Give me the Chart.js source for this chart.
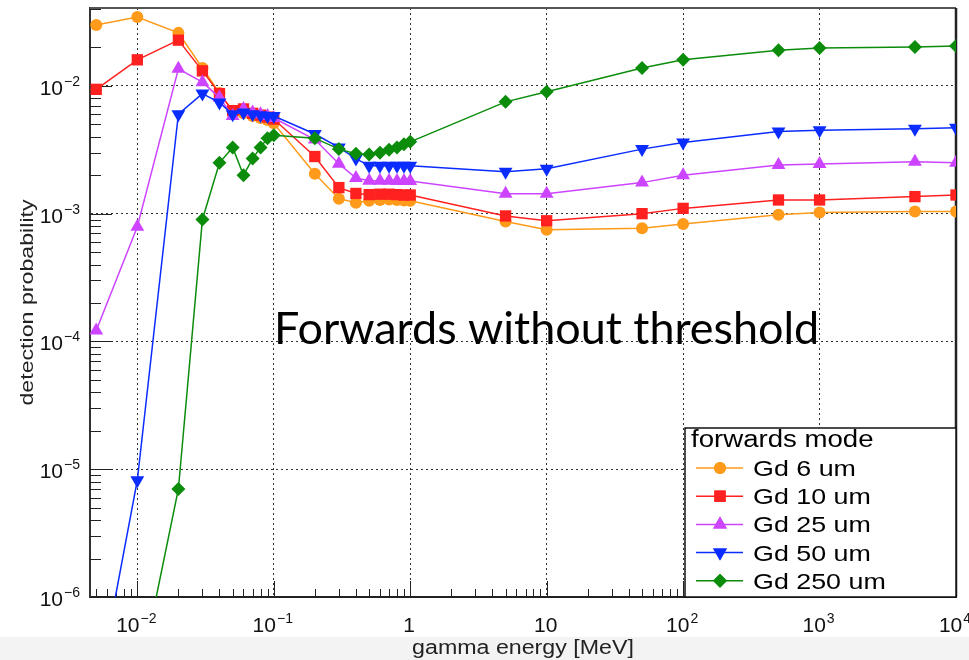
<!DOCTYPE html>
<html>
<head>
<meta charset="utf-8">
<script src="https://cdn.jsdelivr.net/npm/chart.js@4.4.1/dist/chart.umd.min.js"></script>
<style>
	html, body {margin: 0; padding: 0; background: #fff;}
	canvas {display: block;}
</style>
</head>
<body>
<canvas id="chart" width="969" height="660"></canvas>
<script>
// gamma energy [MeV]
const energies = [0.005, 0.01, 0.02, 0.03, 0.04, 0.05, 0.06, 0.07, 0.08, 0.09, 0.1, 0.2, 0.3, 0.4, 0.5, 0.6, 0.7, 0.8, 0.9, 1, 5, 10, 50, 100, 500, 1000, 5000, 10000];

// detection probability, one list per Gd thickness
const gd6 = [0.030, 0.0346, 0.026, 0.0138, 0.0088, 0.0064, 0.0061, 0.0058, 0.0056, 0.0054, 0.0051, 0.00205, 0.00131, 0.00122, 0.00126, 0.00128, 0.00129, 0.00128, 0.00127, 0.00126, 0.00087, 0.00075, 0.00077, 0.00083, 0.00098, 0.00102, 0.00104, 0.00104];
const gd10 = [0.0094, 0.016, 0.0228, 0.0131, 0.0087, 0.0064, 0.0066, 0.0061, 0.0059, 0.0057, 0.0055, 0.0028, 0.0016, 0.00144, 0.00141, 0.00142, 0.00142, 0.00141, 0.0014, 0.0014, 0.00096, 0.00088, 0.001, 0.0011, 0.00128, 0.00128, 0.00136, 0.0014];
const gd25 = [0.000122, 0.00079, 0.0136, 0.0107, 0.0081, 0.0058, 0.0066, 0.0062, 0.006, 0.0058, 0.0056, 0.0038, 0.00246, 0.0019, 0.00181, 0.00181, 0.00181, 0.0018, 0.0018, 0.0018, 0.00143, 0.00143, 0.00175, 0.002, 0.0024, 0.00245, 0.00255, 0.0025];
const gd50 = [1.6e-7, 8.2e-6, 0.006, 0.0087, 0.0074, 0.006, 0.0062, 0.006, 0.0059, 0.0058, 0.0058, 0.0042, 0.0033, 0.0027, 0.00237, 0.00237, 0.00237, 0.00237, 0.00237, 0.00237, 0.00213, 0.00225, 0.0032, 0.0036, 0.0044, 0.0045, 0.00462, 0.0047];
const gd250 = [null, 1.9e-7, 7e-6, 0.0009, 0.0025, 0.0033, 0.002, 0.0027, 0.0033, 0.0039, 0.0041, 0.0039, 0.0032, 0.00294, 0.0029, 0.003, 0.00316, 0.0033, 0.0035, 0.00365, 0.0075, 0.009, 0.0138, 0.016, 0.019, 0.0198, 0.0202, 0.0205];

const seriesLabels = ["Gd 6 um", "Gd 10 um", "Gd 25 um", "Gd 50 um", "Gd 250 um"];
const seriesValues = [gd6, gd10, gd25, gd50, gd250];

// tick labels: mantissa + exponent (drawn as superscript)
const xTickValues = [0.01, 0.1, 1, 10, 100, 1000, 10000];
const xTickBase = ["10", "10", "1", "10", "10", "10", "10"];
const xTickExp = ["−2", "−1", "", "", "2", "3", "4"];
const yTickValues = [1e-6, 1e-5, 1e-4, 1e-3, 1e-2];
const yTickBase = ["10", "10", "10", "10", "10"];
const yTickExp = ["−6", "−5", "−4", "−3", "−2"];

const xTitle = "gamma energy [MeV]";
const yTitle = "detection probability";
const legendTitle = "forwards mode";
const overlayText = "Forwards without threshold";

const FONT = "'Liberation Sans', Arial, sans-serif";

// marker look, ROOT style
const styles = [
	{color: "#ff9a1a", shape: "circle", radius: 6, rotation: 0},
	{color: "#ff2020", shape: "rect", radius: 8, rotation: 0},
	{color: "#cc44ff", shape: "triangle", radius: 8, rotation: 0},
	{color: "#0a2cff", shape: "triangle", radius: 8, rotation: 180},
	{color: "#0b8c0b", shape: "rectRot", radius: 7, rotation: 0},
];

function isDecade(v) {
	const l = Math.log10(v);
	return Math.abs(l - Math.round(l)) < 1e-6;
}

const datasets = seriesValues.map(function (vals, i) {
	const st = styles[i];
	return {
		"label": seriesLabels[i],
		"data": energies.map((e, j) => ({"x": e, "y": vals[j]})),
		"borderColor": st.color,
		"backgroundColor": st.color,
		"borderWidth": 1.5,
		"pointStyle": st.shape,
		"pointRadius": st.radius,
		"pointRotation": st.rotation,
		"pointBorderWidth": 0,
		"tension": 0,
		"spanGaps": false,
		"order": seriesValues.length - i,
	};
});

// text helper, ROOT text here is a bit wider than Liberation Sans
function stretchedText(ctx, text, x, y, size, stretch, align, baseline) {
	ctx.save();
	ctx.translate(x, y);
	ctx.scale(stretch, 1);
	ctx.font = size + "px " + FONT;
	ctx.textAlign = align;
	ctx.textBaseline = baseline;
	ctx.fillText(text, 0, 0);
	ctx.restore();
}

// "10" with a raised exponent; align is where x sits: "center" or "right"
function powerLabel(ctx, base, exp, x, baseY, align) {
	ctx.save();
	ctx.textBaseline = "alphabetic";
	ctx.textAlign = "left";
	ctx.font = "21px " + FONT;
	const wb = ctx.measureText(base).width;
	ctx.font = "14px " + FONT;
	const we = exp ? ctx.measureText(exp).width + 1 : 0;
	const total = wb + we;
	const x0 = align == "right" ? x - total : x - total / 2;
	ctx.font = "21px " + FONT;
	ctx.fillText(base, x0, baseY);
	if (exp) {
		ctx.font = "14px " + FONT;
		ctx.fillText(exp, x0 + wb + 1, baseY - 9);
	}
	ctx.restore();
}

const decorations = {
	"id": "decorations",
	beforeDraw(chart) {
		const ctx = chart.ctx;
		ctx.save();
		ctx.fillStyle = "#ffffff";
		ctx.fillRect(0, 0, chart.width, chart.height);
		ctx.fillStyle = "#f3f3f3";
		ctx.fillRect(0, 637, chart.width, chart.height - 637);
		ctx.restore();
	},
	beforeDatasetsDraw(chart) {
		const ctx = chart.ctx;
		const a = chart.chartArea;
		const xs = chart.scales.x;
		const ys = chart.scales.y;
		ctx.save();
		ctx.strokeStyle = "#222";
		ctx.lineWidth = 1;
		ctx.beginPath();
		// inward ticks on the x axis
		for (let d = -3; d <= 4; d++) {
			for (let k = 1; k <= 9; k++) {
				const v = k * Math.pow(10, d);
				if (v < xs.min || v > xs.max) continue;
				const px = Math.round(xs.getPixelForValue(v)) + 0.5;
				const len = k == 1 ? 16 : 8;
				ctx.moveTo(px, a.bottom);
				ctx.lineTo(px, a.bottom - len);
			}
		}
		// inward ticks on the y axis
		for (let d = -7; d <= -1; d++) {
			for (let k = 1; k <= 9; k++) {
				const v = k * Math.pow(10, d);
				if (v < ys.min || v > ys.max) continue;
				const py = Math.round(ys.getPixelForValue(v)) + 0.5;
				const len = k == 1 ? 22 : 11;
				ctx.moveTo(a.left, py);
				ctx.lineTo(a.left + len, py);
			}
		}
		ctx.stroke();
		// top and right frame
		ctx.strokeStyle = "#555";
		ctx.lineWidth = 2;
		ctx.beginPath();
		ctx.moveTo(a.left, a.top);
		ctx.lineTo(a.right, a.top);
		ctx.stroke();
		ctx.strokeStyle = "#222";
		ctx.lineWidth = 2.5;
		ctx.beginPath();
		ctx.moveTo(a.right, a.top);
		ctx.lineTo(a.right, a.bottom);
		ctx.stroke();
		ctx.restore();
	},
	afterDatasetsDraw(chart) {
		const ctx = chart.ctx;
		const a = chart.chartArea;
		const xs = chart.scales.x;
		const ys = chart.scales.y;
		ctx.save();
		ctx.fillStyle = "#111";

		// tick labels
		xTickValues.forEach(function (v, i) {
			powerLabel(ctx, xTickBase[i], xTickExp[i], xs.getPixelForValue(v) - 1, a.bottom + 35, "center");
		});
		yTickValues.forEach(function (v, i) {
			powerLabel(ctx, yTickBase[i], yTickExp[i], a.left - 10, ys.getPixelForValue(v) + 9, "right");
		});

		// axis titles
		ctx.fillStyle = "#222";
		stretchedText(ctx, xTitle, (a.left + a.right) / 2, 648, 20, 1.16, "center", "middle");
		ctx.save();
		ctx.translate(28, (a.top + a.bottom) / 2);
		ctx.rotate(-Math.PI / 2);
		stretchedText(ctx, yTitle, 0, 0, 19, 1.22, "center", "middle");
		ctx.restore();

		// big overlay caption
		const target = 545;
		ctx.font = "48px Lato";
		const size = 48 * target / ctx.measureText(overlayText).width;
		ctx.font = size.toFixed(1) + "px Lato";
		ctx.fillStyle = "#000";
		ctx.textBaseline = "alphabetic";
		ctx.textAlign = "left";
		ctx.fillText(overlayText, 274, 344);

		// legend box
		const bx = 685, by = 428;
		const bw = a.right - bx, bh = a.bottom - by;
		ctx.fillStyle = "#fff";
		ctx.fillRect(bx, by, bw, bh);
		ctx.strokeStyle = "#111";
		ctx.lineWidth = 1.5;
		ctx.strokeRect(bx, by, bw, bh);

		ctx.fillStyle = "#000";
		stretchedText(ctx, legendTitle, 691, 447, 23, 1.2, "left", "alphabetic");

		chart.data.datasets.forEach(function (ds, i) {
			const y = 468 + 28.2 * i;
			ctx.strokeStyle = ds.borderColor;
			ctx.lineWidth = 1.5;
			ctx.beginPath();
			ctx.moveTo(696, y);
			ctx.lineTo(743, y);
			ctx.stroke();
			ctx.fillStyle = ds.backgroundColor;
			if (Chart.helpers && Chart.helpers.drawPoint) {
				Chart.helpers.drawPoint(ctx, {
					"pointStyle": ds.pointStyle,
					"radius": ds.pointRadius,
					"rotation": ds.pointRotation,
					"borderWidth": 0,
				}, 720, y);
				ctx.fill();
			}
			ctx.fillStyle = "#000";
			stretchedText(ctx, ds.label, 753, y + 8, 22, 1.22, "left", "alphabetic");
		});
		ctx.restore();
	},
};

new Chart(document.getElementById("chart"), {
	"type": "line",
	"data": {"datasets": datasets},
	"options": {
		"responsive": false,
		"animation": false,
		"layout": {"padding": {"top": 7, "right": 13, "left": 0, "bottom": 0}},
		"plugins": {
			"legend": {"display": false},
			"tooltip": {"enabled": false},
		},
		"scales": {
			"x": {
				"type": "logarithmic",
				"min": 0.0045,
				"max": 10000,
				"afterBuildTicks": (scale) => { scale.ticks = xTickValues.map((v) => ({"value": v})); },
				"afterFit": (scale) => {
					scale.height = 63;
					scale.paddingLeft = 0;
					scale.paddingRight = 0;
				},
				"ticks": {"display": false},
				"grid": {
					"drawTicks": false,
					"color": (c) => (c.tick && isDecade(c.tick.value)) ? "#333" : "rgba(0,0,0,0)",
					"lineWidth": 1,
				},
				"border": {"display": true, "color": "#222", "width": 2, "dash": [2, 3]},
			},
			"y": {
				"type": "logarithmic",
				"min": 1e-6,
				"max": 0.0407,
				"afterBuildTicks": (scale) => { scale.ticks = yTickValues.map((v) => ({"value": v})); },
				"afterFit": (scale) => {
					scale.width = 90;
					scale.paddingTop = 0;
					scale.paddingBottom = 0;
				},
				"ticks": {"display": false},
				"grid": {
					"drawTicks": false,
					"color": (c) => (c.tick && isDecade(c.tick.value)) ? "#333" : "rgba(0,0,0,0)",
					"lineWidth": 1,
				},
				"border": {"display": true, "color": "#333", "width": 2, "dash": [2, 3]},
			},
		},
	},
	"plugins": [decorations],
});
</script>
</body>
</html>
